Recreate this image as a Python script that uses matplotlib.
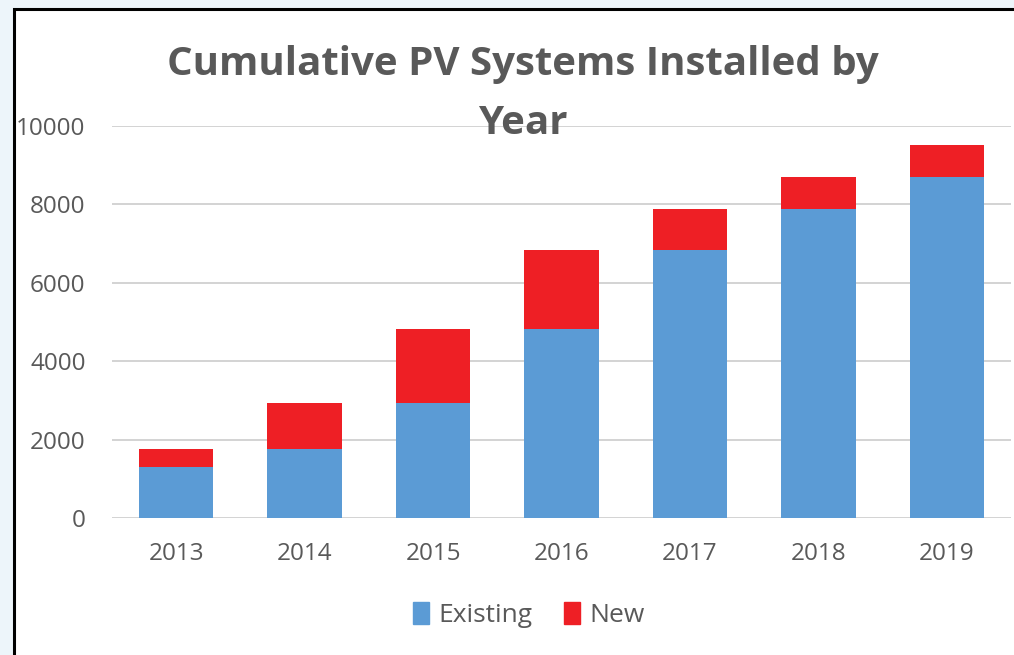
import matplotlib
matplotlib.use("Agg")
import matplotlib.pyplot as plt
from matplotlib.patches import Rectangle, Patch
import numpy as np

# values
years = ["2013", "2014", "2015", "2016", "2017", "2018", "2019"]
existing = [1290, 1760, 2940, 4830, 6840, 7890, 8710]
new = [470, 1180, 1890, 2010, 1050, 820, 810]
y_ticks = [0, 2000, 4000, 6000, 8000, 10000]

blue = "#5B9BD5"
red = "#EE1F25"
text_gray = "#595959"

plt.rcParams["font.family"] = ["Open Sans", "DejaVu Sans"]

fig = plt.figure(figsize=(10.14, 6.55), dpi=100, facecolor="#edf5fa")

# white chart panel with the black frame on the left/top
panel = Rectangle((14 / 1014, -0.1), 1.2, 1.1 - 9 / 655,
                  transform=fig.transFigure, facecolor="white",
                  edgecolor="black", linewidth=2.2, zorder=-10)
fig.patches.append(panel)

ax = fig.add_axes([112 / 1014, (655 - 518) / 655, 899 / 1014, 392 / 655])
ax.set_facecolor("none")

x = np.arange(len(years))
ax.bar(x, existing, width=0.58, color=blue, label="Existing", zorder=3)
ax.bar(x, new, width=0.58, bottom=existing, color=red, label="New", zorder=3)

ax.set_xlim(-0.5, len(years) - 0.5)
ax.set_ylim(0, 10000)
ax.set_yticks(y_ticks)
ax.set_xticks(x)
ax.set_xticklabels(years)
ax.grid(axis="y", color="#cccccc", linewidth=1.2, zorder=0)
for s in ax.spines.values():
    s.set_visible(False)
ax.tick_params(axis="both", length=0, labelsize=17.5, colors=text_gray)
ax.tick_params(axis="y", pad=19)
ax.tick_params(axis="x", pad=17)

fig.text(523 / 1014, 1 - 94 / 655, "Cumulative PV Systems Installed by\nYear",
         ha="center", va="center", fontsize=29, fontweight="bold",
         color=text_gray, linespacing=1.7, zorder=5)

handles = [Patch(color=blue, label="Existing"), Patch(color=red, label="New")]
fig.legend(handles=handles, loc="center", bbox_to_anchor=(529 / 1014, 1 - 615 / 655),
           ncol=2, frameon=False, fontsize=19, handlelength=0.6, handleheight=0.9,
           handletextpad=0.35, columnspacing=1.2, labelcolor=text_gray)

fig.savefig("out.png", dpi=100, facecolor=fig.get_facecolor())
